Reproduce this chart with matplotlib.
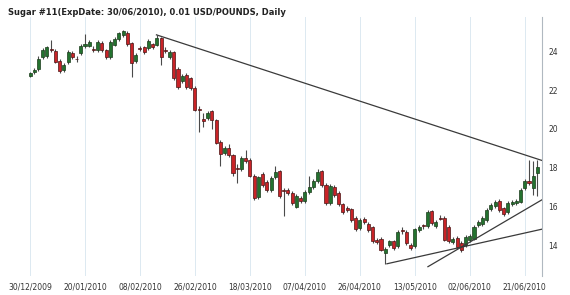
import matplotlib
matplotlib.use("Agg")
import matplotlib.pyplot as plt
import numpy as np

title = "Sugar #11(ExpDate: 30/06/2010), 0.01 USD/POUNDS, Daily"

# daily candles, trading-day index 0 = 30/12/2009
opens = [22.75, 22.95, 23.1, 23.7, 23.75, 24.1, 24.0, 23.5, 23.05, 23.45,
         23.9, 23.62, 23.9, 24.25, 24.3, 24.12, 24.05, 24.45, 24.05, 23.7,
         24.35, 24.65, 24.85, 24.95, 24.45, 23.5, 24.17, 24.2, 24.15, 24.4,
         24.35, 24.7, 24.07, 23.7, 23.95, 23.1, 22.45, 22.8, 22.6, 22.1,
         21.02, 20.5, 20.55, 20.9, 20.45, 19.35, 18.75, 19.0, 18.65, 18.0,
         17.93, 18.5, 18.4, 17.6, 16.5, 17.7, 17.25, 16.85, 17.5, 17.85,
         16.82, 16.85, 16.7, 16.0, 16.45, 16.3, 16.75, 17.0, 17.3, 17.85,
         17.1, 16.2, 17.0, 16.7, 16.15, 15.95, 15.85, 15.4, 14.9, 15.35,
         15.1, 14.95, 14.3, 14.35, 13.6, 14.0, 14.2, 13.95, 14.77, 14.7,
         14.0, 13.95, 14.8, 15.02, 15.0, 15.75, 15.0, 15.42, 15.4, 14.95,
         14.15, 14.4, 14.1, 14.0, 14.25, 14.35, 15.05, 15.1, 15.3, 15.85,
         16.05, 16.3, 15.9, 15.7, 16.15, 16.2, 16.25, 16.95, 17.3, 16.95,
         17.75]
closes = [22.9, 23.05, 23.6, 24.05, 24.2, 24.08, 23.45, 23.0, 23.3, 23.95,
          23.7, 23.58, 24.3, 24.4, 24.5, 24.08, 24.5, 24.05, 23.7, 24.5,
          24.65, 24.95, 25.05, 24.4, 23.4, 23.8, 24.13, 23.95, 24.55, 24.2,
          24.7, 23.7, 24.03, 23.95, 22.6, 22.15, 22.75, 22.15, 22.1, 21.0,
          20.98, 20.4, 20.8, 20.45, 19.3, 18.7, 19.0, 18.65, 17.73, 17.96,
          18.5, 18.35, 17.6, 16.45, 17.5, 17.1, 16.85, 17.45, 17.8, 16.55,
          16.78, 16.7, 16.2, 16.55, 16.3, 16.75, 17.0, 17.3, 17.8, 17.1,
          16.2, 17.05, 16.6, 16.15, 15.7, 15.8, 15.3, 14.85, 15.3, 15.2,
          14.8, 14.2, 14.15, 13.75, 13.8, 14.2, 13.85, 14.7, 14.73, 14.1,
          13.85, 14.85, 14.95, 14.98, 15.7, 15.15, 15.2, 15.38, 14.3, 14.2,
          14.35, 13.9, 13.75, 14.45, 14.5, 14.95, 15.2, 15.4, 15.8, 16.1,
          16.25, 15.8, 15.6, 16.2, 16.25, 16.3, 16.85, 17.3, 17.2, 17.6,
          18.05]
highs = [22.95, 23.15, 23.75, 24.15, 24.3, 24.6, 24.1, 23.6, 23.4, 24.05,
         24.0, 23.75, 24.4, 24.9, 24.6, 24.25, 24.6, 24.55, 24.1, 24.6,
         24.75, 25.0, 25.1, 25.05, 24.5, 23.9, 24.3, 24.3, 24.65, 24.45,
         24.85, 24.75, 24.2, 24.05, 24.0, 23.2, 22.85, 22.9, 22.7, 22.2,
         21.2, 20.8, 20.9, 21.0, 20.5, 19.45, 19.1, 19.2, 18.7, 18.2,
         18.6, 18.9, 18.5, 17.7, 17.6, 17.8, 17.35, 17.55, 18.1, 17.9,
         16.95, 16.95, 16.8, 16.65, 16.55, 16.85, 17.6, 17.4, 17.95, 17.9,
         17.2, 17.15, 17.1, 16.8, 16.2, 16.05, 15.95, 15.5, 15.4, 15.45,
         15.2, 15.0, 14.4, 14.45, 13.9, 14.3, 14.3, 14.8, 14.95, 14.8,
         14.1, 14.9, 15.05, 15.1, 15.8, 15.8, 15.3, 15.55, 15.5, 15.05,
         14.45, 14.5, 14.2, 14.55, 14.6, 15.05, 15.3, 15.5, 15.9, 16.2,
         16.35, 16.4, 16.0, 16.3, 16.35, 16.4, 16.95, 17.4, 18.4, 18.35,
         18.4]
lows = [22.7, 22.85, 23.0, 23.6, 23.65, 23.95, 23.4, 22.9, 22.95, 23.35,
        23.6, 23.45, 23.8, 24.15, 24.2, 23.95, 23.95, 23.95, 23.6, 23.6,
        24.25, 24.55, 24.75, 24.3, 22.7, 23.4, 24.0, 23.85, 24.05, 24.1,
        24.25, 23.3, 23.9, 23.6, 22.5, 22.05, 22.35, 22.05, 22.0, 20.9,
        19.85, 20.1, 20.45, 20.0, 19.2, 18.1, 18.65, 18.55, 17.6, 17.2,
        17.85, 18.25, 17.5, 16.35, 16.4, 17.0, 16.75, 16.75, 17.4, 16.45,
        15.5, 16.6, 16.1, 15.9, 16.2, 16.2, 16.65, 16.9, 17.2, 17.0,
        16.1, 16.1, 16.5, 16.05, 15.6, 15.7, 15.2, 14.75, 14.8, 15.1,
        14.7, 14.1, 14.05, 13.7, 13.05, 13.9, 13.75, 13.85, 14.6, 14.0,
        13.75, 13.85, 14.7, 14.85, 14.9, 15.05, 14.9, 15.3, 14.2, 14.1,
        14.05, 13.8, 13.65, 13.9, 14.15, 14.25, 14.95, 15.0, 15.2, 15.75,
        15.95, 15.7, 15.5, 15.6, 16.05, 16.1, 16.2, 16.85, 17.1, 16.6,
        16.55]

date_labels = ["30/12/2009", "20/01/2010", "08/02/2010", "26/02/2010",
               "18/03/2010", "07/04/2010", "26/04/2010", "13/05/2010",
               "02/06/2010", "21/06/2010"]
date_pos = [0, 13, 26, 39, 52, 65, 78, 91, 104, 117]
price_ticks = [14, 16, 18, 20, 22, 24]

# drawn trend lines: (index, price) end points
trend_down = [(29.9, 24.85), (121, 18.38)]
trend_low = [(84.4, 13.05), (121, 14.83)]
trend_up = [(94.1, 12.9), (121, 16.34)]

o = np.array(opens)
c = np.array(closes)
h = np.array(highs)
l = np.array(lows)
x = np.arange(len(o))

fig = plt.figure(figsize=(5.7, 2.95), dpi=100)
ax = fig.add_axes([0.0, 0.0644, 0.9503, 0.878])

up = c >= o
body_low = np.minimum(o, c)
body_h = np.maximum(np.abs(c - o), 0.05)

ax.vlines(x, l, h, color="#4a4a4a", linewidth=0.8, zorder=2)
ax.bar(x[up], body_h[up], bottom=body_low[up], width=0.72,
       color="#23722f", edgecolor="#1b3b1b", linewidth=0.5, zorder=3)
ax.bar(x[~up], body_h[~up], bottom=body_low[~up], width=0.72,
       color="#c92327", edgecolor="#4a1515", linewidth=0.5, zorder=3)

for line in (trend_down, trend_low, trend_up):
    xs, ys = zip(*line)
    ax.plot(xs, ys, color="#3a3a3a", linewidth=0.9, zorder=4)

ax.set_xlim(-7.1, 121)
ax.set_ylim(12.42, 25.77)

ax.set_xticks(date_pos)
ax.set_xticklabels(date_labels)
ax.set_yticks(price_ticks)
ax.yaxis.tick_right()
ax.tick_params(axis="both", length=0, labelsize=5.5, colors="#333333")
ax.tick_params(axis="x", pad=5)
ax.tick_params(axis="y", pad=5)
ax.grid(axis="x", color="#dce9f1", linewidth=0.7)
ax.set_axisbelow(True)

for side in ("left", "top", "bottom"):
    ax.spines[side].set_visible(False)
ax.spines["right"].set_color("#b0b8c0")
ax.spines["right"].set_linewidth(0.8)

fig.text(0.014, 0.972, title, fontsize=6.0, fontweight="bold",
         color="#222222", va="top", ha="left")

fig.savefig("out.png", dpi=100)
